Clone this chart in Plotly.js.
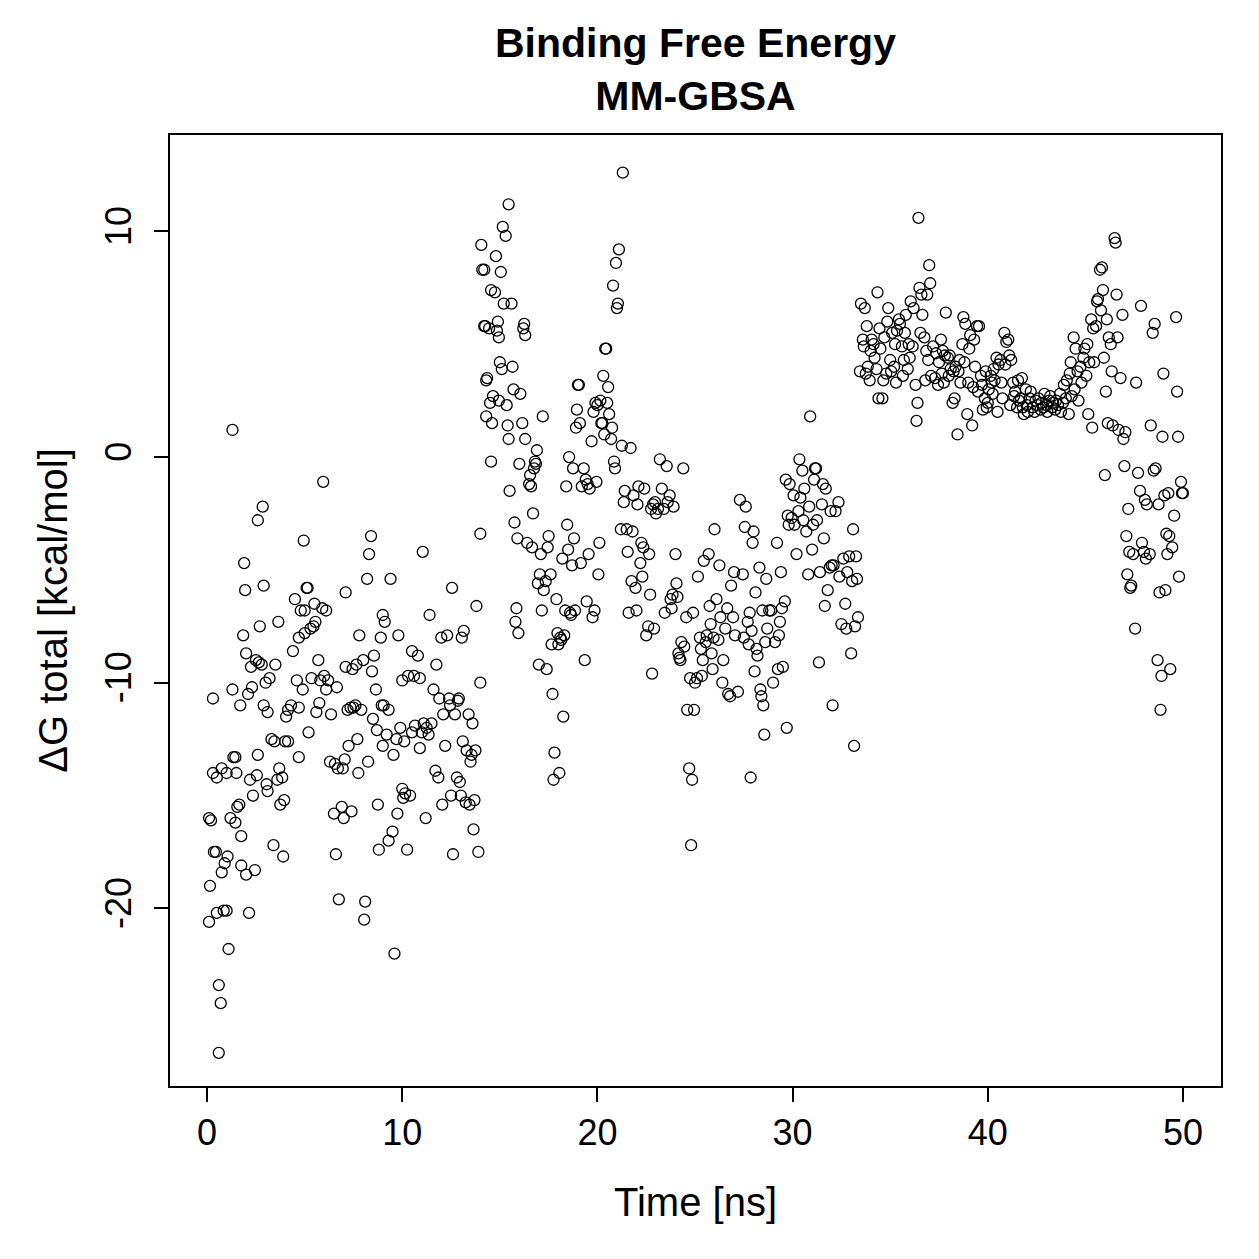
<!DOCTYPE html>
<html>
<head>
<meta charset="utf-8">
<script src="https://cdn.plot.ly/plotly-3.0.1.min.js"></script>
<style>html,body{margin:0;padding:0;background:#fff;}#chart{width:1259px;height:1259px;}</style>
</head>
<body>
<div id="chart"></div>
<script>
// [time (ns), dG total (kcal/mol)]
var phase1 = [
[0.1,-16.0],[0.2,-16.1],[0.15,-19.0],[0.1,-20.6],[0.3,-10.7],[0.3,-14.0],[0.35,-17.5],[0.45,-17.5],[0.5,-14.2],[0.5,-20.2],
[0.6,-23.4],[0.7,-24.2],[0.6,-26.4],[0.75,-13.8],[0.75,-18.4],[0.85,-20.1],[1.0,-20.1],[0.9,-18.0],[1.05,-17.7],[1.1,-21.8],
[1.0,-14.0],[1.2,-16.0],[1.3,1.2],[1.3,-10.3],[1.35,-13.3],[1.45,-13.3],[1.45,-16.2],[1.5,-14.0],[1.55,-15.5],[1.65,-15.4],
[1.7,-11.0],[1.75,-16.8],[1.75,-18.1],[1.85,-7.9],[1.9,-4.7],[1.95,-5.9],[2.0,-8.7],[2.0,-18.5],
[2.1,-10.5],[2.15,-20.2],[2.2,-14.3],[2.25,-9.3],[2.3,-10.2],[2.35,-15.0],[2.45,-18.3],[2.5,-9.0],[2.55,-14.1],[2.6,-13.2],
[2.6,-2.8],[2.65,-9.1],[2.7,-7.5],[2.8,-9.2],[2.85,-2.2],[2.9,-5.7],[2.9,-11.0],[3.0,-10.0],[3.05,-14.5],[3.1,-11.3],
[3.1,-14.8],[3.2,-9.8],[3.3,-12.5],[3.4,-17.2],[3.45,-12.6],[3.5,-9.2],[3.6,-14.3],[3.65,-7.3],[3.7,-13.8],[3.75,-15.4],
[3.85,-14.2],[3.9,-17.7],[3.95,-15.2],[4.0,-12.6],[4.05,-11.5],[4.15,-11.2],[4.15,-12.6],[4.3,-11.0],[4.4,-8.6],[4.5,-6.3],
[4.6,-9.9],[4.7,-13.3],[4.7,-11.1],[4.7,-8.0],[4.8,-6.8],[4.9,-10.3],[4.95,-3.7],[5.0,-6.8],[5.0,-7.8],
[5.1,-5.8],[5.15,-5.8],[5.2,-12.2],[5.3,-7.6],[5.35,-9.8],[5.45,-7.5],[5.5,-6.5],[5.55,-7.3],[5.6,-11.3],[5.7,-9.0],
[5.75,-10.9],[5.8,-9.9],[5.9,-6.7],[5.95,-1.1],[6.0,-9.7],[6.1,-6.8],[6.1,-10.3],[6.2,-9.9],[6.3,-13.5],[6.35,-11.4],
[6.5,-15.8],[6.55,-13.6],[6.6,-17.6],[6.65,-10.2],[6.7,-13.8],[6.75,-19.6],[6.9,-15.5],[6.95,-13.8],[7.0,-16.0],[7.05,-13.4],
[7.1,-9.3],[7.1,-6.0],[7.2,-11.2],[7.25,-12.8],[7.35,-11.1],[7.4,-15.7],[7.45,-9.4],[7.5,-11.1],[7.6,-11.0],[7.65,-9.2],
[7.7,-12.5],[7.75,-14.0],[7.8,-7.9],[7.9,-11.2],[8.0,-9.0],[8.05,-20.5],[8.1,-19.7],[8.2,-5.4],[8.25,-13.5],[8.3,-4.3],
[8.4,-3.5],[8.45,-9.5],[8.5,-11.6],[8.55,-8.8],[8.65,-10.3],[8.7,-12.1],[8.75,-15.4],[8.8,-17.4],[8.9,-8.0],[9.0,-7.0],
[9.05,-11.0],[9.1,-7.3],[9.2,-12.3],[9.3,-17.0],[9.3,-11.2],[9.4,-5.4],[9.5,-16.6],[9.55,-13.2],[9.6,-22.0],[9.7,-12.5],
[9.75,-15.8],[9.8,-7.9],[9.9,-12.0],[10.0,-9.9],[10.0,-14.7],[9.0,-12.8],[8.95,-11.0],
[10.05,-15.1],[10.1,-12.6],[10.15,-14.9],[10.25,-17.4],[10.3,-9.7],[10.4,-15.0],[10.5,-12.2],[10.5,-8.6],[10.6,-9.7],[10.65,-11.9],
[10.8,-8.8],[10.9,-12.9],[10.9,-9.8],[11.0,-12.2],[11.05,-4.2],[11.1,-11.8],[11.2,-16.0],[11.25,-12.0],[11.35,-12.3],[11.4,-7.0],
[11.5,-11.8],[11.6,-10.3],[11.7,-13.9],[11.75,-9.2],[11.85,-14.2],[11.9,-10.7],[12.0,-8.0],[12.05,-15.4],[12.1,-11.4],[12.2,-12.8],
[12.3,-7.9],[12.4,-10.7],[12.45,-11.0],[12.5,-15.0],[12.55,-5.8],[12.6,-17.6],[12.7,-11.4],[12.8,-14.2],[12.85,-10.8],[12.9,-10.7],
[12.95,-14.4],[13.0,-15.0],[13.05,-8.0],[13.1,-12.6],[13.15,-7.7],[13.25,-15.3],[13.3,-13.0],[13.4,-11.4],[13.45,-15.4],[13.5,-13.5],
[13.55,-13.2],[13.6,-11.8],[13.65,-16.5],[13.7,-15.2],[13.75,-13.0],[13.8,-6.6],[13.9,-17.5],[14.0,-10.0]
];
var phase2 = [
[14.0,-3.4],[14.05,9.4],[14.1,8.3],[14.2,8.3],[14.2,5.8],[14.25,5.8],[14.3,3.4],[14.3,1.8],[14.35,3.5],[14.45,5.7],
[14.5,2.4],[14.55,7.4],[14.55,-0.2],[14.6,1.5],[14.65,2.7],[14.75,7.3],[14.8,8.9],[14.85,5.6],[14.9,6.0],[14.95,2.5],
[14.95,5.3],[15.0,4.2],[15.05,8.2],[15.1,3.9],[15.15,10.2],[15.2,6.8],[15.3,9.8],[15.35,2.3],[15.4,1.4],[15.45,11.2],
[15.45,0.8],[15.5,-1.5],[15.6,6.8],[15.65,4.0],[15.7,3.0],[15.75,-2.9],[15.8,-7.3],[15.85,-6.7],[15.9,-3.6],[15.95,-7.8],
[16.0,-0.3],[16.05,2.8],[16.15,1.5],[16.2,5.7],[16.25,5.9],[16.3,5.4],[16.3,0.8],[16.4,-3.8],[16.5,-1.2],[16.55,-0.8],
[16.6,-1.3],[16.65,-4.0],[16.7,-2.5],[16.75,-0.5],[16.8,-0.2],[16.85,-0.3],[16.9,0.3],[16.95,-5.6],[17.0,-9.2],[17.05,-5.2],
[17.1,-4.3],[17.15,-6.8],[17.2,1.8],[17.25,-5.9],[17.35,-5.5],[17.4,-9.4],[17.45,-4.0],[17.5,-3.5],[17.6,-5.2],[17.65,-8.3],
[17.7,-10.5],[17.75,-14.3],[17.8,-13.1],[17.9,-6.3],[17.95,-7.8],[18.0,-8.3],[18.05,-14.0],[18.1,-8.0],[18.15,-8.1],[18.2,-4.5],
[18.25,-11.5],[18.3,-7.9],[18.35,-6.8],[18.4,-1.3],[18.45,-3.0],[18.5,-4.1],[18.55,0.0],[18.6,-6.9],[18.65,-7.0],[18.7,-4.8],
[18.75,-0.5],[18.8,-3.6],[18.85,-6.8],[18.9,1.3],[18.95,2.1],[19.0,3.2],[19.05,3.2],[19.1,1.5],[19.15,-4.7],[19.2,-1.3],
[19.3,-0.5],[19.35,-9.0],[19.4,-1.0],[19.45,-6.4],[19.5,-1.2],[19.55,-4.3],[19.6,-1.4],[19.7,0.7],[19.75,-7.1],[19.8,2.0],
[19.85,-6.8],[19.9,2.4],[19.95,-1.1],[20.0,2.3],[20.05,-5.2],[20.1,-3.8],[20.15,2.5],[20.2,1.5],[20.25,1.5],[20.3,3.6],
[20.35,1.0],[20.4,4.8],[20.45,4.8],[20.5,2.4],[20.55,3.1],[20.6,1.9],[20.7,0.8],[20.75,1.3],[20.8,7.6],[20.85,-0.2],
[20.9,-0.5],[20.95,8.6],[21.0,6.6],[21.05,6.8],[21.1,9.2],[21.2,-3.2],[21.25,0.5],[21.3,12.6],[21.35,-2.0],[21.4,-1.5],
[21.5,-3.2],[21.55,-4.2],[21.6,-6.9],[21.7,0.4],[21.75,-5.5],[21.8,-3.3],[21.85,-1.7],[21.95,-5.8],[22.0,-6.8],[22.05,-2.1],
[22.1,-1.3],[22.2,-4.7],[22.25,-3.8],[22.3,-5.3],[22.35,-4.0],[22.4,-1.4],[22.5,-7.9],[22.6,-7.5],[22.65,-4.3],[22.7,-6.1],
[22.75,-2.3],[22.8,-9.6],[22.85,-2.1],[22.9,-7.6],[22.95,-2.0],[23.0,-2.5],[23.1,-2.3],[23.2,-0.1],[23.3,-1.4],[23.4,-2.3],
[23.45,-6.9],[23.55,-0.4],[23.6,-2.0],[23.7,-1.7],[23.75,-6.3],[23.8,-6.7],[23.85,-6.1],[23.9,-2.2],[24.0,-4.3],[24.05,-5.6],
[24.1,-6.2],[24.15,-8.7],[24.2,-8.9],[24.25,-9.0],[24.3,-8.2],[24.4,-0.5],[24.45,-8.4],[24.55,-7.1],[24.6,-11.2],[24.7,-13.8],
[24.75,-9.8],[24.85,-14.3],[24.8,-17.2],[24.9,-6.9],[24.95,-11.2],[25.0,-10.0],[25.1,-9.8],[25.15,-5.3],[25.25,-8.0],[25.3,-8.5],
[25.35,-9.7],[25.4,-9.0],[25.45,-4.6],[25.55,-8.2],[25.6,-7.9],[25.7,-4.3],[25.75,-6.6],[25.8,-7.4],[25.85,-8.7],[25.9,-9.4],
[25.95,-8.0],[26.0,-3.2],[26.1,-6.3],[26.2,-8.1],[26.25,-4.8],[26.3,-7.1],[26.4,-10.0],[26.45,-9.0],[26.55,-7.6],[26.65,-6.7],
[26.7,-10.5],[26.8,-10.6],[26.85,-5.7],[26.95,-7.1],[27.0,-5.1],[27.05,-7.9],[27.2,-10.4],[27.3,-1.9],[27.45,-5.2],[27.5,-8.0],
[27.55,-3.1],[27.6,-2.2],[27.7,-7.3],[27.75,-8.3],[27.8,-6.9],[27.85,-14.2],[27.9,-7.7],[27.95,-3.8],[28.0,-3.3],[28.05,-9.5],
[28.1,-6.0],[28.15,-8.5],[28.2,-8.8],[28.3,-4.9],[28.35,-10.3],[28.4,-10.6],[28.45,-6.8],[28.5,-11.0],[28.55,-12.3],[28.6,-8.2],
[28.65,-5.4],[28.7,-7.6],[28.8,-6.8],[28.9,-6.8],[29.0,-10.0],[29.1,-8.2],[29.2,-3.8],[29.25,-9.4],[29.3,-7.9],[29.35,-7.3],
[29.4,-5.1],[29.45,-6.7],[29.5,-9.3],[29.6,-6.4],[29.65,-1.0],[29.7,-12.0],[29.75,-2.6],[29.8,-3.0],[29.85,-1.2],[29.95,-2.7],
[30.05,-1.7],[30.1,-3.0],[30.2,-4.3],[30.3,-2.4],[30.35,-0.1],[30.4,-1.8],[30.5,-0.6],[30.55,-2.8],[30.6,-1.4],[30.7,-3.3],
[30.8,-5.2],[30.85,-2.2],[30.9,1.8],[31.0,-4.1],[31.05,-3.0],[31.1,-1.0],[31.15,-0.5],[31.2,-0.5],[31.25,-2.8],[31.35,-9.1],
[31.4,-5.1],[31.5,-2.1],[31.55,-1.2],[31.6,-3.6],[31.65,-6.6],[31.7,-1.4],[31.8,-5.9],[31.9,-4.9],[31.95,-2.4],[32.0,-4.8],
[32.05,-11.0],[32.1,-4.8],[32.2,-2.4],[32.35,-2.0],[32.4,-5.3],[32.5,-7.4],[32.6,-4.5],[32.7,-6.5],[32.75,-7.6],[32.8,-5.1],
[32.9,-4.4],[33.0,-8.7],[33.05,-5.5],[33.1,-3.2],[33.15,-12.8],[33.2,-7.5],[33.25,-4.4],[33.3,-5.4],[33.35,-7.1]
];
var phase3 = [
[33.45,3.8],[33.5,6.8],[33.6,5.2],[33.65,4.9],[33.7,6.6],[33.75,3.7],[33.8,5.8],[33.85,4.0],[33.95,3.4],[34.0,4.7],
[34.05,5.2],[34.15,5.0],[34.2,4.4],[34.3,3.9],[34.35,7.3],[34.4,2.6],[34.45,5.7],[34.5,4.8],[34.6,2.6],[34.65,3.4],
[34.7,5.3],[34.8,3.7],[34.85,6.0],[34.9,6.6],[35.0,4.3],[35.05,3.8],[35.1,5.5],[35.2,4.0],[35.25,5.0],[35.3,3.3],
[35.35,5.6],[35.45,6.1],[35.5,5.9],[35.6,4.9],[35.65,3.6],[35.7,4.3],[35.75,5.5],[35.8,6.3],[35.9,3.9],[35.95,5.0],
[36.0,4.4],[36.05,6.9],[36.15,4.9],[36.2,6.6],[36.3,3.2],[36.35,1.6],[36.4,2.4],[36.45,10.6],[36.5,7.5],[36.55,5.5],
[36.6,7.2],[36.65,6.3],[36.75,5.3],[36.8,3.4],[36.85,4.7],[36.9,7.2],[36.95,4.3],[37.0,8.5],[37.05,7.7],[37.1,3.6],
[37.2,4.9],[37.3,3.5],[37.35,4.6],[37.45,3.2],[37.5,4.2],[37.6,5.2],[37.65,3.7],[37.7,4.7],[37.75,3.3],[37.8,4.5],
[37.85,6.4],[37.95,4.4],[38.0,3.6],[38.05,4.5],[38.1,3.9],[38.2,2.4],[38.25,3.8],[38.3,2.6],[38.35,4.0],[38.45,1.0],
[38.5,3.8],[38.55,4.3],[38.6,3.3],[38.7,5.0],[38.75,6.2],[38.8,4.2],[38.85,5.9],[38.95,1.9],[39.0,3.3],[39.05,4.8],
[39.1,5.4],[39.2,1.4],[39.25,3.1],[39.3,5.2],[39.35,4.0],[39.45,5.8],[39.5,2.9],[39.55,5.8],[39.65,3.6],[39.7,3.2],
[39.75,2.1],[39.85,2.6],[39.9,3.8],[39.95,2.2],[40.0,2.4],[40.05,3.0],[40.15,3.6],[40.2,3.3],[40.25,2.8],[40.3,3.9],
[40.35,3.4],[40.45,4.4],[40.5,2.0],[40.55,4.1],[40.65,4.3],[40.7,3.3],[40.75,2.6],[40.85,5.5],[40.9,4.1],[40.95,5.1],
[41.05,5.2],[41.1,4.5],[41.15,2.3],[41.2,4.3],[41.3,3.3],[41.35,2.7],[41.4,2.9],[41.5,2.2],[41.55,3.4],[41.6,2.5],
[41.7,2.6],[41.75,3.5],[41.8,2.2],[41.85,1.9],[41.95,3.0],[42.0,2.3],[42.05,2.0],[42.15,2.6],[42.2,2.9],[42.3,2.2],
[42.4,2.0],[42.45,2.5],[42.55,2.3],[42.6,2.6],[42.7,2.1],[42.75,2.4],[42.85,2.2],[42.9,2.8],[43.0,2.3],[43.05,2.0],
[43.15,2.5],[43.2,2.7],[43.3,2.2],[43.35,2.4],[43.45,2.1],[43.5,2.5],[43.6,2.3],[43.7,2.8],[43.75,2.0],[43.85,2.4],
[43.9,3.2],[44.0,2.6],[44.05,3.4],[44.15,1.9],[44.2,3.7],[44.25,4.2],[44.3,2.7],[44.4,5.3],[44.45,3.0],[44.5,4.8],
[44.6,3.8],[44.65,2.5],[44.75,4.0],[44.8,3.3],[44.9,4.4],[44.95,4.8],[45.05,3.6],[45.1,5.0],[45.15,1.9],[45.2,4.2],
[45.3,6.1],[45.35,1.3],[45.4,5.7],[45.45,4.2],[45.55,5.8],[45.6,6.9],[45.65,7.0],[45.75,8.3],[45.8,6.5],[45.85,8.4],
[45.9,7.4],[45.95,4.4],[46.0,-0.8],[46.05,2.9],[46.1,6.1],[46.15,1.5],[46.2,5.3],[46.3,5.0],[46.35,3.8],[46.4,1.4],
[46.5,9.7],[46.55,9.5],[46.6,7.2],[46.65,5.3],[46.7,1.2],[46.8,3.5],[46.9,6.3],[46.95,0.8],[47.0,-0.4],[47.05,1.1],
[47.1,-3.5],[47.15,-5.2],[47.2,-2.3],[47.25,-4.2],[47.3,-5.8],[47.35,-5.7],[47.45,-4.3],[47.55,-7.6],[47.6,3.3],[47.7,-0.7],
[47.8,-1.5],[47.85,6.7],[47.9,-3.8],[48.0,-4.2],[48.05,-1.9],[48.1,-4.5],[48.15,-2.1],[48.3,-4.3],[48.35,1.4],[48.45,5.5],
[48.5,-0.6],[48.55,5.9],[48.6,-0.5],[48.7,-9.0],[48.75,-2.1],[48.8,-6.0],[48.85,-11.2],[48.9,-9.7],[48.95,0.9],[49.0,3.7],
[49.05,-1.7],[49.1,-5.9],[49.15,-3.4],[49.2,-4.3],[49.25,-1.6],[49.3,-3.5],[49.35,-9.4],[49.45,-4.0],[49.55,-2.6],[49.65,6.2],
[49.7,2.9],[49.75,0.9],[49.8,-5.3],[49.9,-1.1],[49.95,-1.6],[50.0,-1.6]
];
var xTicks = [0, 10, 20, 30, 40, 50];
var yTicks = [-20, -10, 0, 10];

var all = phase1.concat(phase2, phase3);
var time = all.map(function(p){return p[0];});
var dG = all.map(function(p){return p[1];});

var font = 'Liberation Sans, Arial, Helvetica, sans-serif';
var trace = {
  x: time, y: dG, type: 'scatter', mode: 'markers',
  marker: {symbol: 'circle-open', size: 11, color: '#000', line: {width: 1.3, color: '#000'}},
  hoverinfo: 'skip'
};
var layout = {
  width: 1259, height: 1259,
  paper_bgcolor: '#fff', plot_bgcolor: '#fff',
  margin: {l: 170, r: 38, t: 135, b: 173},
  showlegend: false,
  font: {family: font, size: 36, color: '#000'},
  title: {text: '<b>Binding Free Energy</b><br><b>MM-GBSA</b>', font: {family: font, size: 41, color: '#000'},
          x: 0.5, xref: 'paper', xanchor: 'center', y: 0.955, yref: 'container', yanchor: 'middle'},
  xaxis: {
    range: [-1.9, 51.95], tickvals: xTicks, ticktext: xTicks.map(String),
    showgrid: false, zeroline: false, showline: true, mirror: true, linecolor: '#000', linewidth: 2,
    ticks: 'outside', ticklen: 14, tickwidth: 2, tickcolor: '#000',
    tickfont: {family: font, size: 36, color: '#000'},
    title: {text: 'Time [ns]', font: {family: font, size: 40, color: '#000'}, standoff: 36}
  },
  yaxis: {
    range: [-27.87, 14.27], tickvals: yTicks, ticktext: yTicks.map(String),
    showgrid: false, zeroline: false, showline: true, mirror: true, linecolor: '#000', linewidth: 2,
    ticks: 'outside', ticklen: 14, tickwidth: 2, tickcolor: '#000', tickangle: -90, ticklabelstandoff: 9,
    tickfont: {family: font, size: 36, color: '#000'},
    title: {text: 'ΔG total [kcal/mol]', font: {family: font, size: 40, color: '#000'}, standoff: 18}
  }
};
Plotly.newPlot('chart', [trace], layout, {displayModeBar: false, staticPlot: true});
</script>
</body>
</html>
